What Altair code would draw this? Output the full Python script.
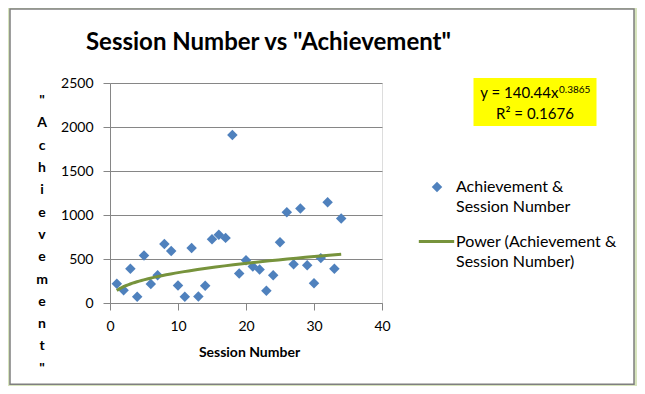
import altair as alt
import pandas as pd

# ---------------- data ----------------
sessions = list(range(1, 35))
achievement = [220, 145, 390, 70, 540, 215, 315, 670, 590, 200,
               70, 625, 75, 195, 725, 775, 740, 1910, 335, 485,
               415, 380, 140, 315, 690, 1030, 440, 1075, 430, 225,
               510, 1145, 390, 960]
x_ticks = [0, 10, 20, 30, 40]
y_ticks = [0, 500, 1000, 1500, 2000, 2500]

chart_title = 'Session Number vs "Achievement"'
x_title = "Session Number"
y_title = '"Achievement"'
point_series = "Achievement & Session Number"
trend_series = "Power (Achievement & Session Number)"
eq_coef = "140.44"
eq_exp = "0.3865"
eq_r2 = "0.1676"

# ---------------- style ----------------
FONT = "Lato"
GRAY = "#868686"
BLUE = "#4F81BD"
GREEN = "#77933C"
FRAME_BG = "#D7E4BD"

df = pd.DataFrame({"session": sessions, "achievement": achievement})
one = pd.DataFrame({"k": [0]})

split_expr = ("[slice(datum.label, 0, indexof(datum.label, '&') + 1), "
              "slice(datum.label, indexof(datum.label, '&') + 2)]")

x_enc = alt.X(
    "session:Q",
    scale=alt.Scale(domain=[0, 40], nice=False),
    axis=alt.Axis(
        values=x_ticks, grid=False, labelFlush=False, format="d",
        domainColor=GRAY, tickColor=GRAY, tickSize=7,
        labelFont=FONT, labelFontSize=14, labelColor="black", labelPadding=9,
        title=x_title, titleFont=FONT, titleFontSize=14, titleFontWeight="bold",
        titleColor="black", titleX=139, titleY=49, titleBaseline="middle",
        titleAlign="center",
    ),
)
y_enc = alt.Y(
    "achievement:Q",
    scale=alt.Scale(domain=[0, 2500], nice=False),
    axis=alt.Axis(
        values=y_ticks, grid=True, gridColor=GRAY, gridWidth=1, labelFlush=False,
        format="d",
        domainColor=GRAY, tickColor=GRAY, tickSize=7,
        labelFont=FONT, labelFontSize=14, labelColor="black", labelPadding=10,
        title=list(y_title), titleFont=FONT, titleFontSize=14,
        titleFontWeight="bold", titleColor="black", titleAngle=0,
        titleAlign="center", titleBaseline="alphabetic",
        titleX=-68.5, titleY=21.7, titleLineHeight=22.3,
    ),
)

# outer green margin and grey border of the chart area (no fill, so the
# axes and grid stay visible)
frame_green = alt.Chart(one).mark_rect(
    fillOpacity=0, stroke=FRAME_BG, strokeWidth=10
).encode(
    x=alt.value(-105), x2=alt.value(529), y=alt.value(-79), y2=alt.value(306.3)
)
frame_line = alt.Chart(one).mark_rect(
    fillOpacity=0, stroke="#7F7F7F", strokeWidth=1.5
).encode(
    x=alt.value(-100), x2=alt.value(524), y=alt.value(-74), y2=alt.value(301.3)
)

points = alt.Chart(df).transform_calculate(
    series=f"'{point_series}'"
).mark_point(filled=True, size=110, color=BLUE, opacity=1).encode(
    x=x_enc,
    y=y_enc,
    shape=alt.Shape(
        "series:N",
        scale=alt.Scale(domain=[point_series], range=["diamond"]),
        legend=alt.Legend(
            title=None, orient="none", legendX=319, legendY=96,
            labelExpr=split_expr, labelFont=FONT, labelFontSize=16,
            labelColor="black", labelOffset=11, labelLimit=400,
            symbolSize=110, symbolFillColor=BLUE, symbolStrokeWidth=0,
            symbolOpacity=1, padding=0,
        ),
    ),
)

trend = alt.Chart(df).transform_regression(
    "session", "achievement", method="pow", extent=[1, 34]
).transform_calculate(
    series=f"'{trend_series}'"
).mark_line(strokeWidth=3).encode(
    x=x_enc,
    y=y_enc,
    color=alt.Color(
        "series:N",
        scale=alt.Scale(domain=[trend_series], range=[GREEN]),
        legend=alt.Legend(
            title=None, orient="none", legendX=307, legendY=139,
            labelExpr=split_expr, labelFont=FONT, labelFontSize=16,
            labelColor="black", labelOffset=0, labelLimit=400,
            symbolType="stroke", symbolSize=1250, symbolStrokeWidth=3,
            padding=0,
        ),
    ),
)

eq_box = alt.Chart(one).mark_rect(fill="#FFFF00").encode(
    x=alt.value(363.5), x2=alt.value(486.5), y=alt.value(-5), y2=alt.value(43)
)
eq_line1 = alt.Chart(one).mark_text(
    text=f"y = {eq_coef}x", align="right", baseline="alphabetic",
    font=FONT, fontSize=15, color="black"
).encode(x=alt.value(448.5), y=alt.value(15.3))
eq_sup = alt.Chart(one).mark_text(
    text=eq_exp, align="left", baseline="alphabetic",
    font=FONT, fontSize=10, color="black"
).encode(x=alt.value(449), y=alt.value(10))
eq_line2 = alt.Chart(one).mark_text(
    text=f"R\u00b2 = {eq_r2}", align="center", baseline="alphabetic",
    font=FONT, fontSize=15, color="black"
).encode(x=alt.value(425), y=alt.value(36.3))

title_t = alt.Chart(one).mark_text(
    text=chart_title, align="center", baseline="middle",
    font=FONT, fontSize=24, fontWeight="bold", color="black"
).encode(x=alt.value(158.5), y=alt.value(-40))

chart = alt.layer(
    frame_green, frame_line, points, trend, eq_box, eq_line1, eq_sup,
    eq_line2, title_t
).properties(
    width=272,
    height=220,
    autosize=alt.AutoSizeParams(type="none"),
    padding={"left": 102, "top": 75, "right": 255, "bottom": 83},
    background="white",
).configure_view(
    stroke=None
).configure(
    style={"guide-label": {"lineHeight": 20}}
)

chart.save("out.html", embed_options={"renderer": "svg", "actions": False})
